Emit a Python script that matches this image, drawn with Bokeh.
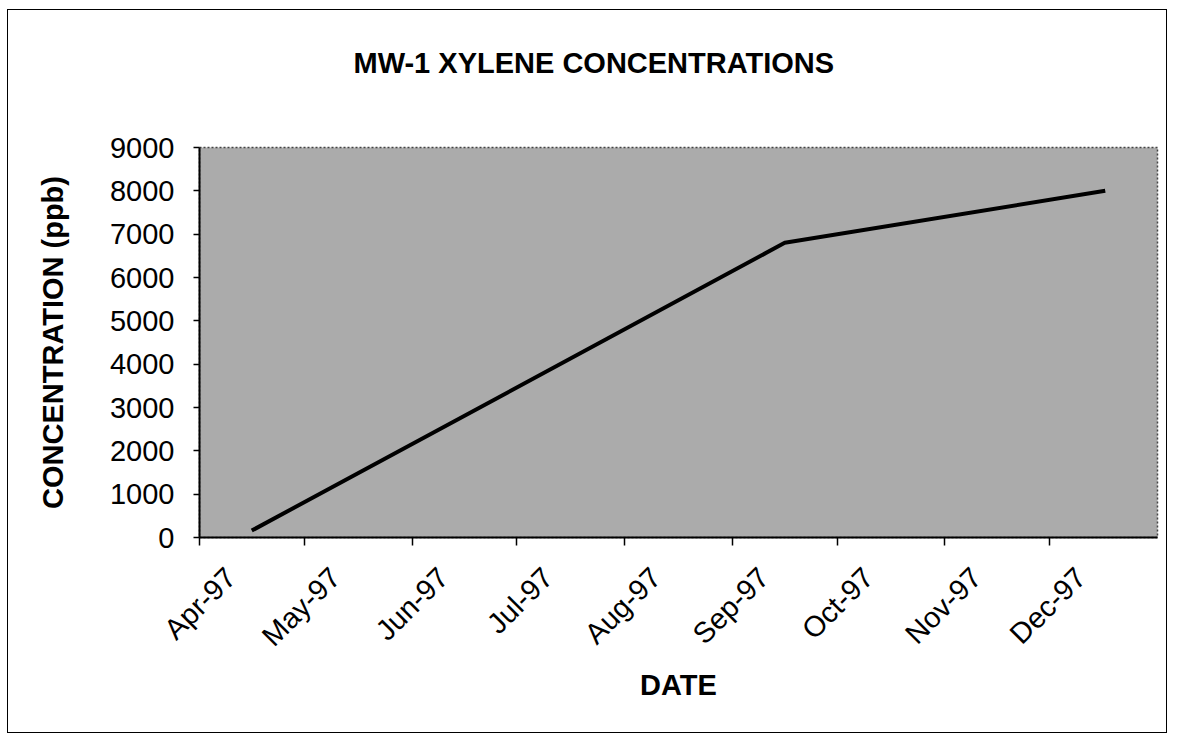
import pandas as pd
from math import pi
from bokeh.plotting import figure
from bokeh.models import (Range1d, FixedTicker, ColumnDataSource, DatetimeAxis,
                          LinearAxis, CustomJSTickFormatter)
from bokeh.embed import file_html
from bokeh.resources import INLINE

# ---- data ----
sample_dates = ["1997-04-16", "1997-09-16", "1997-12-17"]
xylene_ppb = [160, 6800, 8000]

month_ticks = ["1997-04-01", "1997-05-01", "1997-06-01", "1997-07-01", "1997-08-01",
               "1997-09-01", "1997-10-01", "1997-11-01", "1997-12-01"]
month_labels = ["Apr-97", "May-97", "Jun-97", "Jul-97", "Aug-97",
                "Sep-97", "Oct-97", "Nov-97", "Dec-97"]
x_start = "1997-04-01"
x_end = "1998-01-01"
y_ticks = [0, 1000, 2000, 3000, 4000, 5000, 6000, 7000, 8000, 9000]

title_text = "MW-1 XYLENE CONCENTRATIONS"
x_label = "DATE"
y_label = "CONCENTRATION (ppb)"

FONT = "Liberation Sans"
# rotated labels are centred on their tick (as in the source chart): shift of the
# label anchor, in days, so that the rotated text box straddles the tick
LABEL_SHIFT_DAYS = 9

src = ColumnDataSource(dict(date=pd.to_datetime(sample_dates), ppb=xylene_ppb))
tick_dt = pd.to_datetime(month_ticks)
tick_ms = [int(t.value // 10**6) for t in tick_dt]
label_ms = [int((t + pd.Timedelta(days=LABEL_SHIFT_DAYS)).value // 10**6) for t in tick_dt]

p = figure(width=1160, height=724, x_axis_type="datetime",
           x_range=Range1d(pd.Timestamp(x_start).to_pydatetime(), pd.Timestamp(x_end).to_pydatetime()),
           y_range=Range1d(y_ticks[0], y_ticks[-1]),
           output_backend="svg", toolbar_location=None, title=title_text,
           min_border_left=191, min_border_right=11, min_border_top=137, min_border_bottom=197,
           background_fill_color="#ababab", border_fill_color="white")
p.styles = {"border": "1px solid black", "margin-left": "7px", "margin-top": "9px"}

p.title.text_font = FONT
p.title.text_font_size = "29px"
p.title.text_font_style = "bold"
p.title.text_color = "black"
p.title.align = "left"
p.title.offset = 154
p.title.standoff = 10

p.xgrid.visible = False
p.ygrid.visible = False
p.outline_line_color = "#444444"
p.outline_line_dash = "2 2"
p.outline_line_width = 1.5

# y axis
p.yaxis.ticker = FixedTicker(ticks=y_ticks)
p.yaxis.axis_label = y_label
p.yaxis.axis_label_text_font = FONT
p.yaxis.axis_label_text_font_size = "29px"
p.yaxis.axis_label_text_font_style = "bold"
p.yaxis.axis_label_text_color = "black"
p.yaxis.axis_label_standoff = 38
p.yaxis.major_label_text_font = FONT
p.yaxis.major_label_text_font_size = "29px"
p.yaxis.major_label_text_color = "black"
p.yaxis.major_label_standoff = 19
p.yaxis.major_tick_out = 6
p.yaxis.major_tick_in = 0
p.yaxis.minor_tick_out = 0
p.yaxis.minor_tick_in = 0
p.yaxis.axis_line_width = 2
p.yaxis.axis_line_color = "black"
p.yaxis.major_tick_line_width = 1.5
p.yaxis.major_tick_line_color = "black"

# x axis: line + tick marks at month starts
xa = p.below[0]
xa.ticker = FixedTicker(ticks=tick_ms)
xa.formatter = CustomJSTickFormatter(code="return ''")
xa.major_label_text_font_size = "1px"
xa.major_label_standoff = 0
xa.major_tick_out = 8
xa.major_tick_in = 0
xa.minor_tick_out = 0
xa.minor_tick_in = 0
xa.axis_line_width = 2
xa.axis_line_color = "black"
xa.major_tick_line_width = 1.5
xa.major_tick_line_color = "black"

# x axis: rotated month labels + axis title
xl = DatetimeAxis(ticker=FixedTicker(ticks=label_ms),
                  formatter=CustomJSTickFormatter(args=dict(labels=month_labels),
                                                  code="return labels[index]"))
xl.axis_line_color = None
xl.major_tick_line_color = None
xl.minor_tick_line_color = None
xl.major_tick_out = 0
xl.major_tick_in = 0
xl.major_label_orientation = pi / 4
xl.major_label_standoff = 27
xl.major_label_text_font = FONT
xl.major_label_text_font_size = "29px"
xl.major_label_text_color = "black"
xl.axis_label = x_label
xl.axis_label_text_font = FONT
xl.axis_label_text_font_size = "29px"
xl.axis_label_text_font_style = "bold"
xl.axis_label_text_color = "black"
xl.axis_label_standoff = 2
p.add_layout(xl, "below")

# invisible spacer (hidden tick, no line, no label) between the frame and the title
spacer = LinearAxis(ticker=FixedTicker(ticks=[tick_ms[1]]),
                    formatter=CustomJSTickFormatter(code="return ''"))
spacer.axis_line_color = None
spacer.major_tick_line_color = None
spacer.minor_tick_line_color = None
spacer.major_tick_out = 64
spacer.major_tick_in = 0
spacer.minor_tick_out = 0
spacer.major_label_standoff = 0
spacer.major_label_text_font_size = "1px"
p.add_layout(spacer, "above")

p.line(x="date", y="ppb", source=src, line_width=4, line_color="black")

open("out.html", "w").write(file_html(p, INLINE))
